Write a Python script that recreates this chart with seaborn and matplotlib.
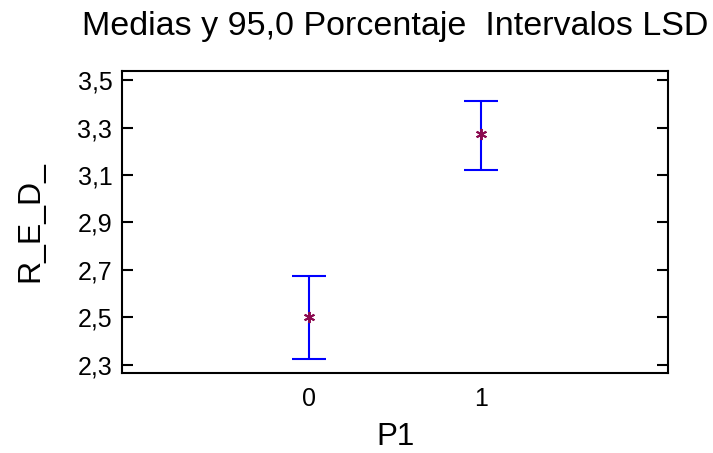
import matplotlib
matplotlib.use("Agg")
import matplotlib.pyplot as plt
import seaborn as sns
import pandas as pd
import numpy as np

# ---- data ----
groups = ["0", "1"]
means = [2.50, 3.271]
lower = [2.324, 3.120]
upper = [2.673, 3.413]
ytick_values = [2.3, 2.5, 2.7, 2.9, 3.1, 3.3, 3.5]
ytick_labels = ["2,3", "2,5", "2,7", "2,9", "3,1", "3,3", "3,5"]
title = "Medias y 95,0 Porcentaje  Intervalos LSD"
xlabel = "P1"
ylabel = "R_E_D_"

sns.set_theme(style="white")
plt.rcParams["font.family"] = ["Liberation Sans", "DejaVu Sans"]

df = pd.DataFrame({"P1": groups, "mean": means, "lo": lower, "hi": upper})

fig = plt.figure(figsize=(7.13, 4.53), dpi=100)
ax_l, ax_r, ax_t, ax_b = 122, 668, 71, 373
ax = fig.add_axes([ax_l / 713, 1 - ax_b / 453, (ax_r - ax_l) / 713, (ax_b - ax_t) / 453])

pos = np.arange(len(df))
yerr = np.vstack([df["mean"] - df["lo"], df["hi"] - df["mean"]])
ax.errorbar(pos, df["mean"], yerr=yerr, fmt="none", ecolor="#0000FF",
            elinewidth=1.5, capsize=12.2, capthick=1.5, zorder=2)

sns.pointplot(data=df, x="P1", y="mean", order=groups, linestyle="none",
              markers=(6, 2, 0), color="#8B0A50", markersize=8,
              markeredgewidth=1.4, errorbar=None, ax=ax, zorder=3)

ax.set_xlim(-1.087, 2.087)
ax.set_ylim(2.266, 3.538)
ax.set_yticks(ytick_values)
ax.set_yticklabels(ytick_labels)
ax.set_xticks(pos)
ax.set_xticklabels(groups)

ax.tick_params(axis="y", which="both", direction="in", length=8, width=1.5,
               left=True, right=True, labelleft=True, labelright=False,
               labelsize=18, pad=7, color="black")
ax.tick_params(axis="x", length=0, labelsize=18, pad=10)
for sp in ax.spines.values():
    sp.set_visible(True)
    sp.set_color("black")
    sp.set_linewidth(1.5)

h = ax_b - ax_t
w = ax_r - ax_l
ax.set_title(title, fontsize=24.5, color="black", pad=0,
             y=(ax_b - 35) / h, va="baseline")
ax.set_xlabel(xlabel, fontsize=22.5, color="black")
ax.xaxis.set_label_coords(0.5, (ax_b - 445) / h)
ax.xaxis.label.set_va("baseline")
ax.set_ylabel(ylabel, fontsize=23, color="black")
ax.yaxis.set_label_coords((38 - ax_l) / w, 0.5)
ax.yaxis.label.set_va("baseline")
for lab in ax.get_xticklabels() + ax.get_yticklabels():
    lab.set_color("black")

fig.savefig("out.png", dpi=100)
